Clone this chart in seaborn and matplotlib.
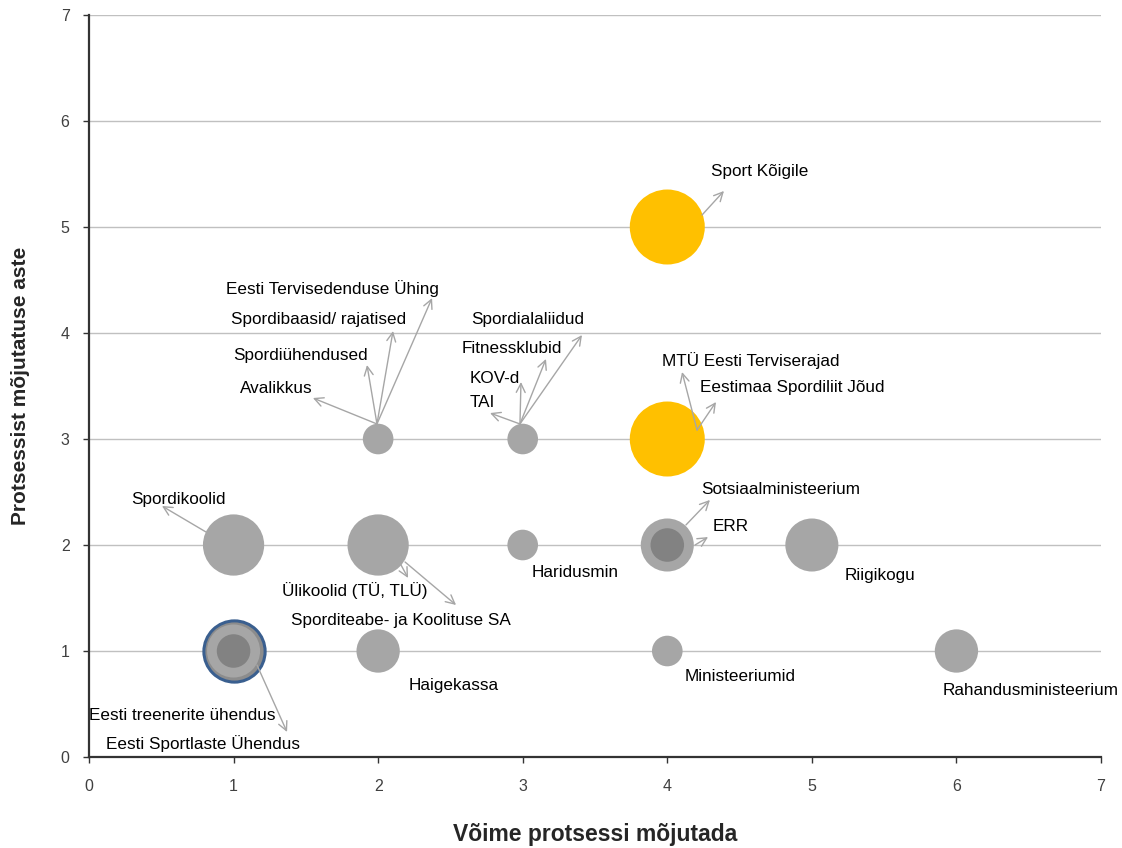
import pandas as pd
import matplotlib.pyplot as plt
import seaborn as sns

# data
bubble_x = [4, 4, 2, 3, 1, 2, 3, 4, 5, 1, 2, 4, 6]
bubble_y = [5, 3, 3, 3, 2, 2, 2, 2, 2, 1, 1, 1, 1]
bubble_value = [6, 6, 1, 1, 4, 4, 1, 3, 3, 3, 2, 1, 2]
bubble_group = ["core", "core", "other", "other", "other", "other", "other",
                "other", "other", "other", "other", "other", "other"]

# the ringed bubble under (1, 1) and the small dark ones drawn on top
ring_x = [1]
ring_y = [1]
ring_value = [4]
inner_x = [4, 1]
inner_y = [2, 1]
inner_value = [1.2, 1.2]

label_names = ["Sport Kõigile", "MTÜ Eesti Terviserajad", "Eestimaa Spordiliit Jõud",
               "Avalikkus", "Spordiühendused", "Spordibaasid/ rajatised",
               "Eesti Tervisedenduse Ühing", "TAI", "KOV-d", "Fitnessklubid",
               "Spordialaliidud", "Spordikoolid", "Ülikoolid (TÜ, TLÜ)",
               "Sporditeabe- ja Koolituse SA", "Sotsiaalministeerium", "ERR",
               "Eesti treenerite ühendus", "Eesti Sportlaste Ühendus",
               "Haridusmin", "Riigikogu", "Haigekassa", "Ministeeriumid",
               "Rahandusministeerium"]

x_ticks = [0, 1, 2, 3, 4, 5, 6, 7]
y_ticks = [0, 1, 2, 3, 4, 5, 6, 7]

# layout: where each label sits (left edge, middle), in data units
label_pos = [(4.30, 5.52), (3.96, 3.745), (4.226, 3.49),
             (1.044, 3.48), (0.996, 3.79), (0.982, 4.13),
             (0.948, 4.415), (2.635, 3.34), (2.635, 3.575), (2.58, 3.858),
             (2.642, 4.123), (0.291, 2.434), (1.335, 1.575),
             (1.397, 1.292), (4.233, 2.519), (4.316, 2.17),
             (0.0, 0.396), (0.118, 0.123),
             (3.064, 1.736), (5.229, 1.717), (2.213, 0.67), (4.123, 0.755),
             (5.905, 0.632)]

# arrows: (start, head) in data units
arrows = [((4.24, 5.113), (4.392, 5.34)),
          ((4.206, 3.085), (4.102, 3.632)),
          ((4.206, 3.085), (4.337, 3.349)),
          ((1.992, 3.142), (1.549, 3.387)),
          ((1.992, 3.142), (1.923, 3.698)),
          ((1.992, 3.142), (2.103, 4.019)),
          ((1.992, 3.142), (2.373, 4.33)),
          ((2.981, 3.142), (2.774, 3.245)),
          ((2.981, 3.142), (2.988, 3.538)),
          ((2.981, 3.142), (3.161, 3.755)),
          ((2.981, 3.142), (3.41, 3.981)),
          ((0.809, 2.123), (0.505, 2.368)),
          ((2.151, 1.83), (2.207, 1.689)),
          ((2.186, 1.84), (2.539, 1.434)),
          ((4.129, 2.189), (4.295, 2.425)),
          ((4.192, 2.0), (4.282, 2.075)),
          ((1.162, 0.868), (1.37, 0.236))]

bubbles = pd.DataFrame({"x": bubble_x, "y": bubble_y, "value": bubble_value, "group": bubble_group})

sns.set_style("white")
plt.rcParams["font.family"] = ["Liberation Sans", "DejaVu Sans"]

fig, ax = plt.subplots(figsize=(11.22, 8.48), dpi=100)
fig.subplots_adjust(left=0.0793, right=0.9813, bottom=0.1073, top=0.9823)

size_kw = dict(sizes=(0, 2916), size_norm=(0, 6), legend=False, linewidth=0, zorder=3)

sns.scatterplot(x=ring_x, y=ring_y, size=ring_value, color="#8c8c8c",
                ax=ax, **{**size_kw, "linewidth": 2.2}, edgecolor="#3a5f8f")
sns.scatterplot(data=bubbles, x="x", y="y", size="value", hue="group",
                palette={"core": "#ffc000", "other": "#a6a6a6"}, ax=ax, **size_kw)
sns.scatterplot(x=inner_x, y=inner_y, size=inner_value, color="#828282", ax=ax, **size_kw)

for (start, head) in arrows:
    ax.annotate("", xy=head, xytext=start,
                arrowprops=dict(arrowstyle="->", color="#a6a6a6", lw=1, mutation_scale=16,
                                shrinkA=0, shrinkB=0), zorder=4)

for name, (lx, ly) in zip(label_names, label_pos):
    ax.text(lx, ly, name, ha="left", va="center", fontsize=12.3, color="#000000", zorder=5)

ax.set_xlim(0, 7)
ax.set_ylim(0, 7)
ax.set_xticks(x_ticks)
ax.set_yticks(y_ticks)
ax.yaxis.grid(True, color="#c0c0c0", lw=1)
ax.xaxis.grid(False)
ax.set_axisbelow(True)

for side in ["top", "right"]:
    ax.spines[side].set_visible(False)
for side in ["left", "bottom"]:
    ax.spines[side].set_color("#333333")
    ax.spines[side].set_linewidth(1.6)

ax.tick_params(direction="out", length=4, width=1, color="#333333",
               labelsize=11.5, labelcolor="#404040", bottom=True, left=True)
ax.tick_params(axis="x", pad=12)
ax.tick_params(axis="y", pad=10)

ax.set_xlabel("Võime protsessi mõjutada", fontsize=16.5, fontweight="bold", labelpad=21)
ax.set_ylabel("Protsessist mõjutatuse aste", fontsize=15, fontweight="bold", labelpad=22)

plt.savefig("out.png", dpi=100)
